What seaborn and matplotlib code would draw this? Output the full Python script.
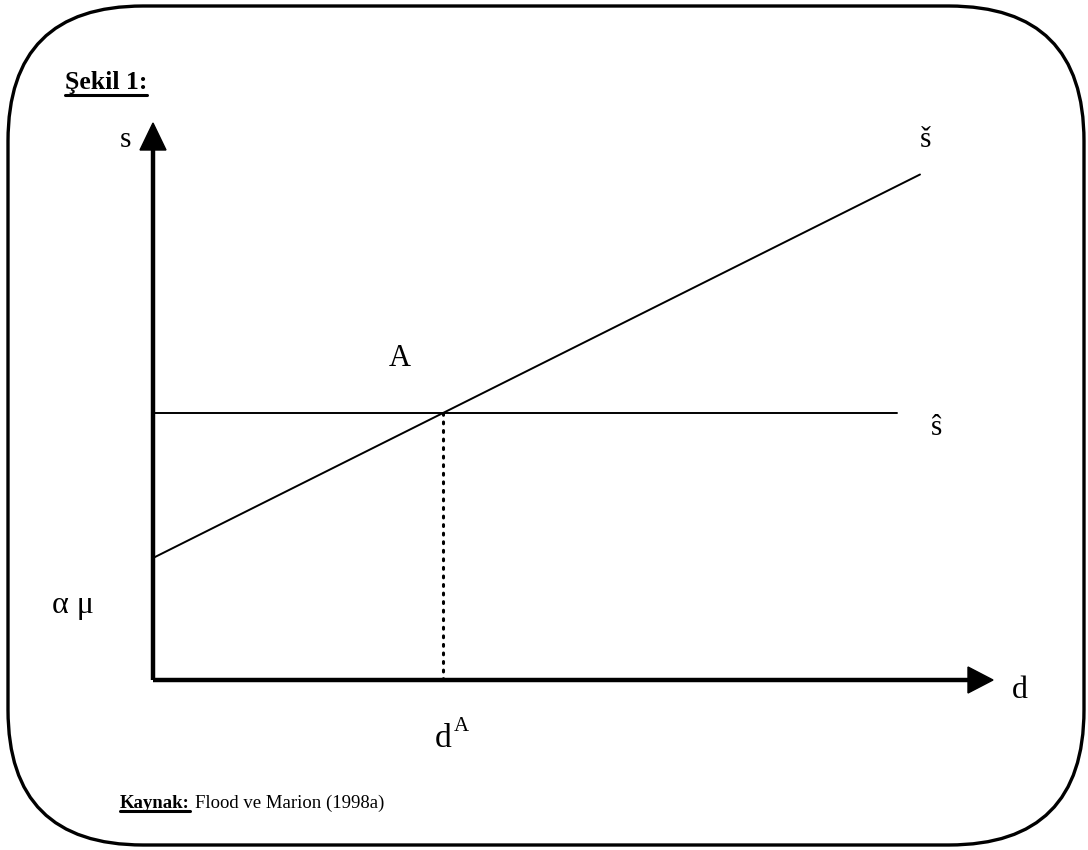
import numpy as np
import pandas as pd
import matplotlib
matplotlib.use("Agg")
import matplotlib.pyplot as plt
from matplotlib.patches import FancyBboxPatch, Polygon
import seaborn as sns

# chart values (1 unit = 100 px, origin at the axes corner)
d_axis_len = 8.15
s_axis_len = 5.30
s_hat = 2.67
hat_line_end = 7.44
alpha_mu = 1.22
slope = 0.50
s_check_end = 7.67
d_A = (s_hat - alpha_mu) / slope

sns.set_theme(style="white")
plt.rcParams['font.family'] = ['Liberation Serif', 'DejaVu Serif']
plt.rcParams['text.color'] = 'black'

fig = plt.figure(figsize=(10.88, 8.5), dpi=100)
ax = fig.add_axes([0, 0, 1, 1])
ax.set_xlim(-1.53, 9.35)
ax.set_ylim(-1.70, 6.80)
ax.axis('off')

# rounded frame
frame = FancyBboxPatch((-1.45 + 1.35, -1.65 + 1.35), 10.76 - 2.7, 8.39 - 2.7,
                       boxstyle="round,pad=1.35", fc='none', ec='black', lw=2.4)
ax.add_patch(frame)

# axes with arrow heads
ax.plot([0, 0], [0, s_axis_len], color='black', lw=3.2, solid_capstyle='butt')
ax.plot([0, d_axis_len], [0, 0], color='black', lw=3.2, solid_capstyle='butt')
ax.add_patch(Polygon([[-0.13, s_axis_len], [0.13, s_axis_len], [0, s_axis_len + 0.27]],
                     closed=True, fc='black', ec='black'))
ax.add_patch(Polygon([[d_axis_len, 0.13], [d_axis_len, -0.13], [d_axis_len + 0.25, 0]],
                     closed=True, fc='black', ec='black'))

lines = pd.DataFrame({
    'd': [0, hat_line_end, 0, s_check_end],
    's': [s_hat, s_hat, alpha_mu, alpha_mu + slope * s_check_end],
    'line': ['hat', 'hat', 'check', 'check'],
})
sns.lineplot(data=lines, x='d', y='s', units='line', estimator=None,
             color='black', lw=1.4, ax=ax, sort=False, legend=False)

ax.plot([d_A, d_A], [0, s_hat], color='black', lw=2.2, ls=(0, (0.6, 2.2)),
        dash_capstyle='round')

# labels
ax.text(-0.28, 5.40, 's', fontsize=21, ha='center', va='center')
ax.text(7.72, 5.40, 'š', fontsize=21, ha='center', va='center')
ax.text(2.47, 3.22, 'A', fontsize=22, ha='center', va='center')
ax.text(7.84, 2.52, 'ŝ', fontsize=21, ha='center', va='center')
ax.text(-1.01, 0.74, 'α μ', fontsize=23, ha='left', va='center')
ax.text(8.67, -0.10, 'd', fontsize=23, ha='center', va='center')
ax.text(d_A + 0.0, -0.67, 'd', fontsize=24, ha='center', va='baseline')
ax.text(d_A + 0.18, -0.37, 'A', fontsize=15, ha='center', va='top')

t1 = ax.text(-0.88, 5.97, 'Şekil 1:', fontsize=18.5, fontweight='bold',
             ha='left', va='center')
t2 = ax.text(-0.33, -1.23, 'Kaynak:', fontsize=13.5, fontweight='bold',
             ha='left', va='center')

fig.canvas.draw()
r = fig.canvas.get_renderer()
inv = ax.transData.inverted()
for t, gap in [(t1, 4), (t2, 3)]:
    bb = t.get_window_extent(r)
    (x0, y0), (x1, _) = inv.transform([[bb.x0, bb.y0 - gap], [bb.x1, bb.y0]])
    ax.plot([x0, x1], [y0 + 0.04, y0 + 0.04], color='black', lw=2.2)
bb2 = t2.get_window_extent(r)
xs = inv.transform([[bb2.x1 + 5, 0]])[0][0]
ax.text(xs, -1.23, 'Flood ve Marion (1998a)', fontsize=13.5, ha='left', va='center')

fig.savefig('out.png', dpi=100)
